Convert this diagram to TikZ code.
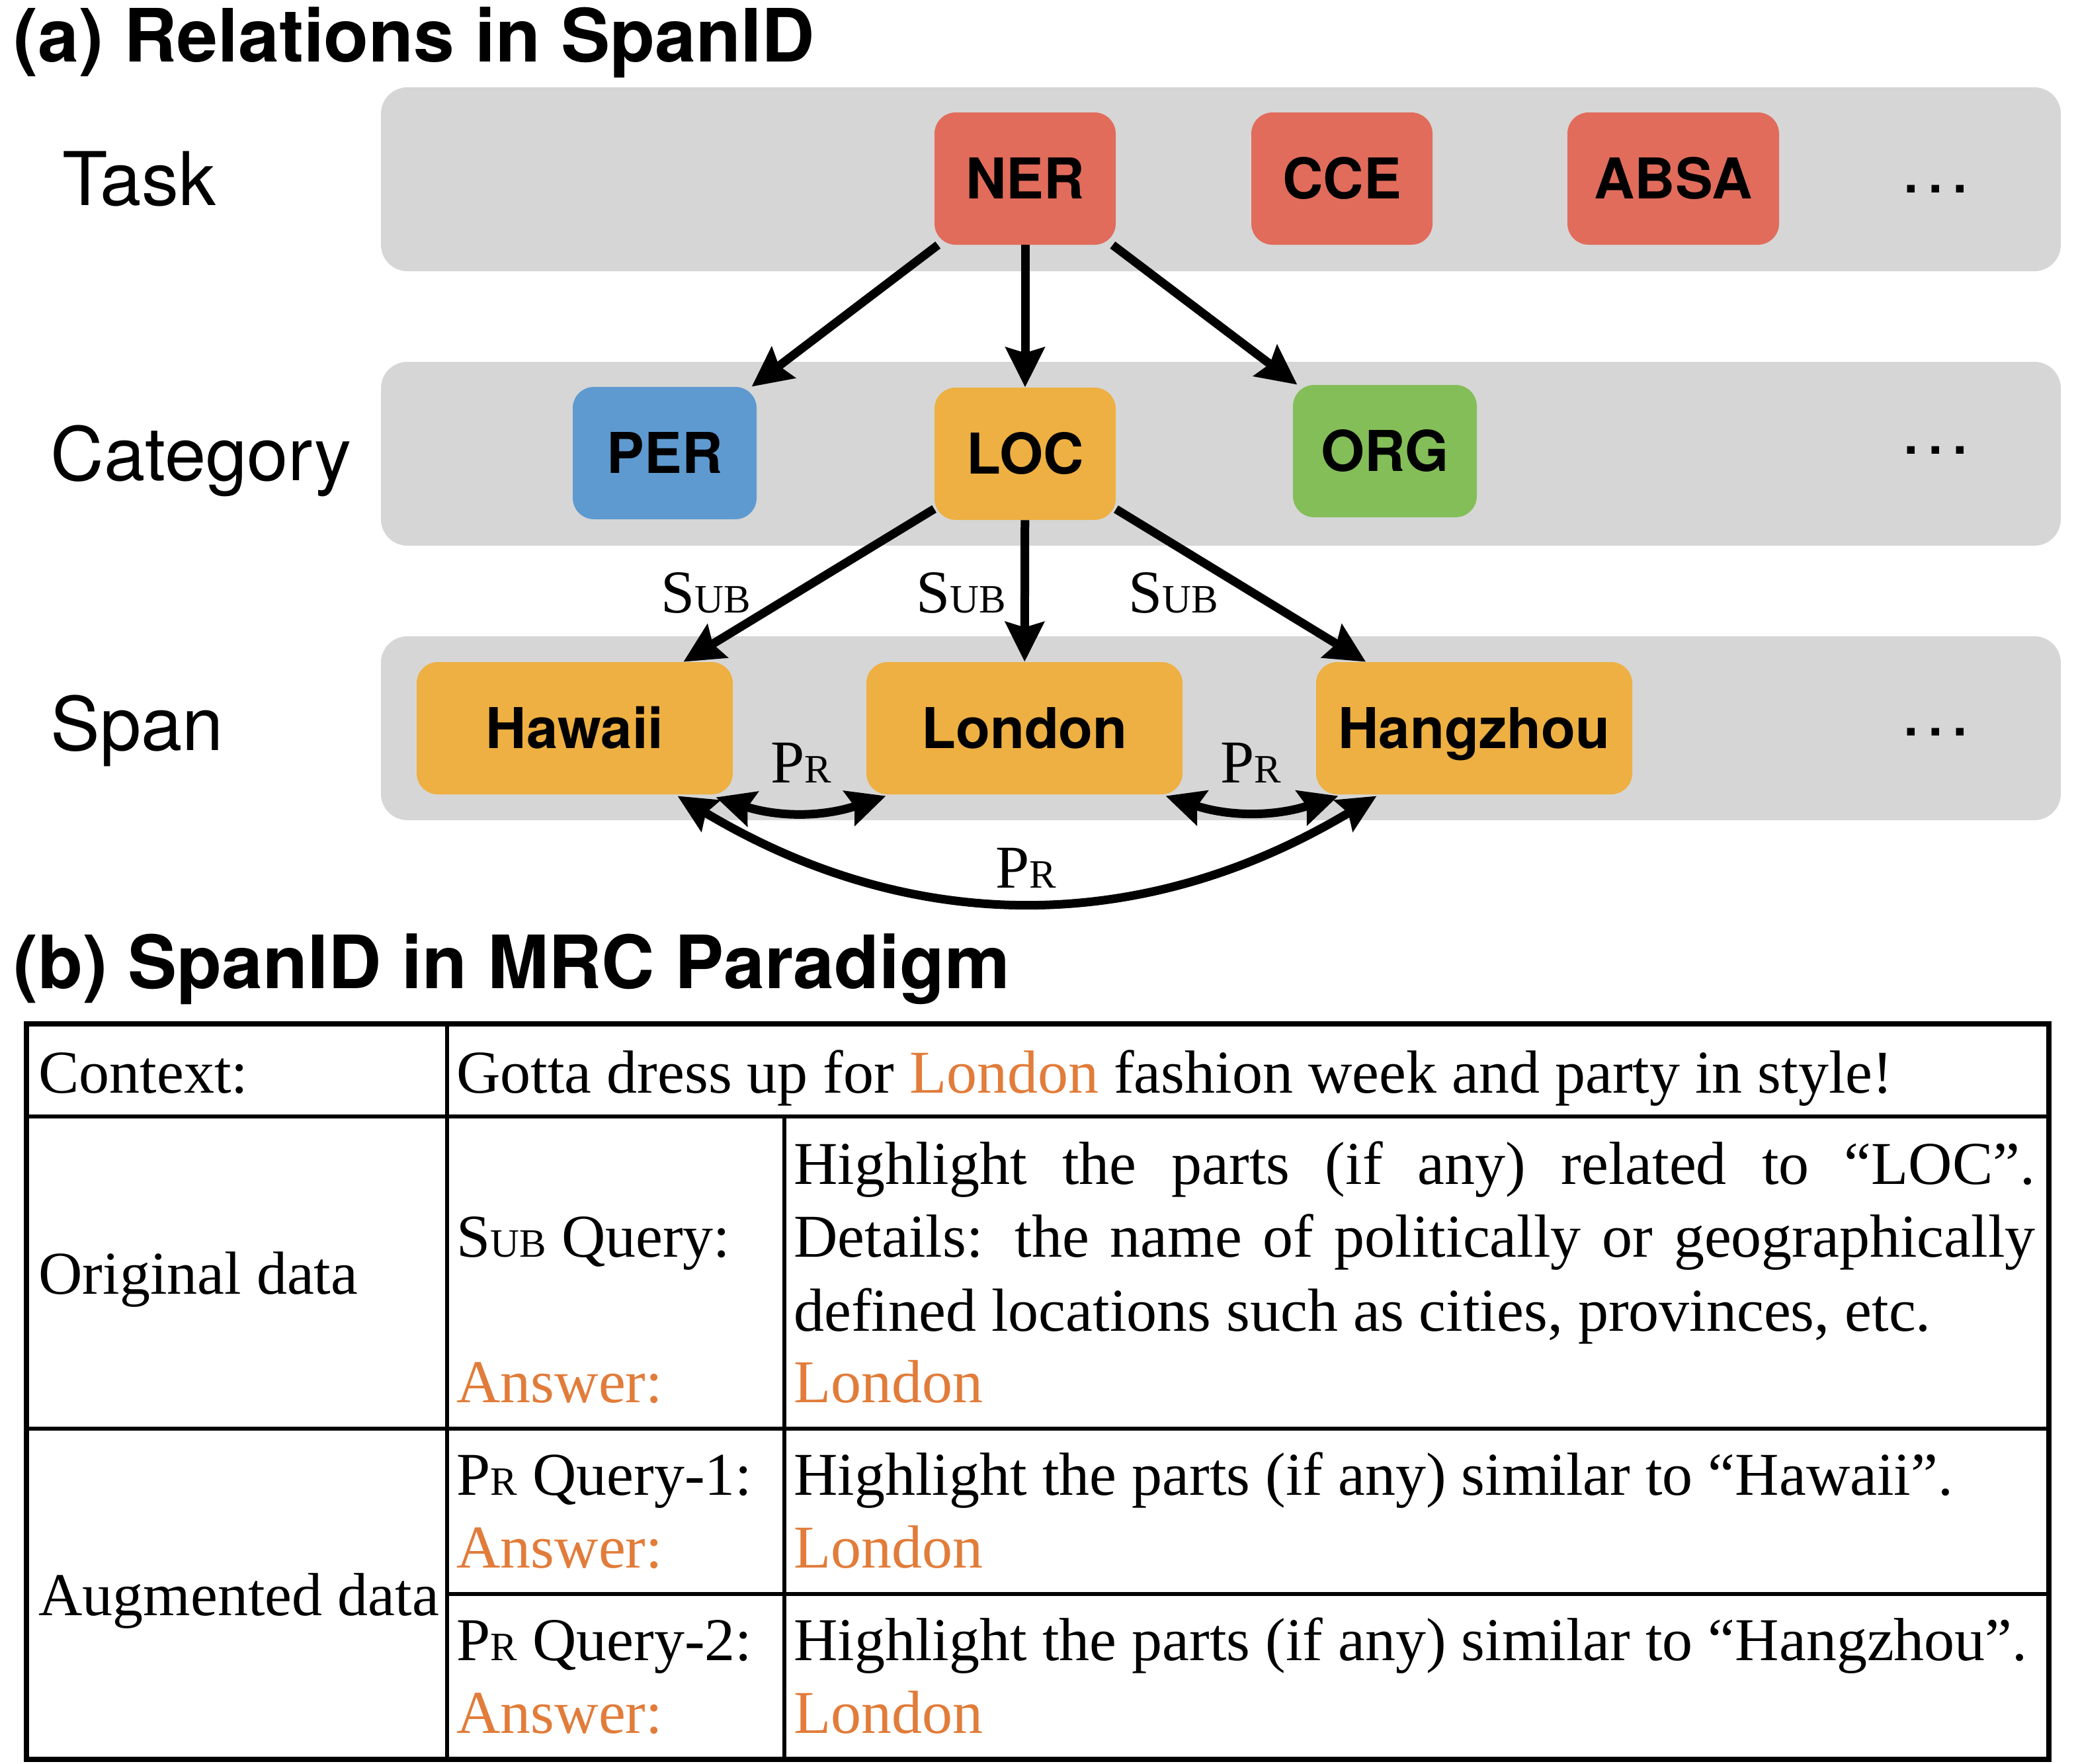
\documentclass[tikz,border=0pt]{standalone}
\usepackage{fontspec}
\setmainfont{Liberation Serif}
\setsansfont{TeX Gyre Heros}
\usetikzlibrary{arrows.meta}
\definecolor{bandgray}{RGB}{214,214,214}
\definecolor{nerred}{RGB}{225,108,91}
\definecolor{perblue}{RGB}{94,154,208}
\definecolor{locorange}{RGB}{238,176,66}
\definecolor{orggreen}{RGB}{132,190,88}
\definecolor{ansorange}{RGB}{225,124,58}
\newcommand{\fakesc}[2]{#1{\fontsize{30.4}{30.4}\selectfont #2}}
\begin{document}
\begin{tikzpicture}[x=1pt,y=-1pt,
  bandbox/.style={fill=bandgray, rounded corners=20pt, minimum width=1270pt, minimum height=139pt, inner sep=0pt},
  tbox/.style={rounded corners=16pt, minimum height=100pt, inner sep=0pt, text height=30.5pt, text depth=0pt, font=\sffamily\bfseries\fontsize{42.5}{42.5}\selectfont},
  lvllab/.style={anchor=base west, inner sep=0pt, font=\sffamily\fontsize{56}{56}\selectfont},
  dotsty/.style={anchor=base west, inner sep=0pt, font=\sffamily\fontsize{55}{55}\selectfont},
  titlesty/.style={anchor=base west, inner sep=0pt, font=\sffamily\bfseries\fontsize{55.6}{55.6}\selectfont},
  rellab/.style={anchor=base west, inner sep=0pt, font=\rmfamily\fontsize{46}{46}\selectfont},
  ttxt/.style={anchor=base west, inner sep=0pt, font=\rmfamily\fontsize{46}{46}\selectfont},
  anstxt/.style={ttxt, text=ansorange},
  arr/.style={line width=6.5pt, -{Stealth[length=30pt,width=29pt,inset=4pt]}},
  prarr/.style={line width=6.5pt, {Stealth[length=29pt,width=27pt,inset=4pt]}-{Stealth[length=29pt,width=27pt,inset=4pt]}},
  outerline/.style={line width=4pt},
  innerline/.style={line width=3pt},
]
\useasboundingbox (0,0) rectangle (1569.5,1333.5);

% titles
\node[titlesty] (ta) at (10,46.5) {(a) Relations in SpanID};
\node[titlesty] (tb) at (10,747) {(b) SpanID in MRC Paradigm};

% bands
\node[bandbox] (band1) at (923,135.5) {};
\node[bandbox] (band2) at (923,343) {};
\node[bandbox] (band3) at (923,550.5) {};

% level labels
\node[lvllab] (task) at (47,155) {Task};
\node[lvllab] (cat) at (38,363) {Category};
\node[lvllab] (span) at (38,567) {Span};

% boxes
\node[tbox, fill=nerred, minimum width=137pt] (ner) at (775,135) {NER};
\node[tbox, fill=nerred, minimum width=137pt] (cce) at (1014.5,135) {CCE};
\node[tbox, fill=nerred, minimum width=160pt] (absa) at (1265,135) {ABSA};
\node[tbox, fill=perblue, minimum width=139pt] (per) at (502.5,342.5) {PER};
\node[tbox, fill=locorange, minimum width=137pt] (loc) at (775,343) {LOC};
\node[tbox, fill=orggreen, minimum width=139pt] (org) at (1047,341) {ORG};
\node[tbox, fill=locorange, minimum width=239pt] (hawaii) at (434.5,550.5) {Hawaii};
\node[tbox, fill=locorange, minimum width=239pt] (london) at (774.5,550.5) {London};
\node[tbox, fill=locorange, minimum width=239pt] (hangzhou) at (1114.5,550.5) {Hangzhou};

% dots
\node[dotsty] (dots1) at (1437,145.5) {.\kern3.2pt.\kern3.2pt.};
\node[dotsty] (dots2) at (1437,343) {.\kern3.2pt.\kern3.2pt.};
\node[dotsty] (dots3) at (1437,556) {.\kern3.2pt.\kern3.2pt.};

% arrows
\draw[arr] (ner) -- (per);
\draw[arr] (ner) -- (loc);
\draw[arr] (ner) -- (org);
\draw[arr] (loc) -- (hawaii);
\draw[arr] (loc) -- (london);
\draw[arr] (loc) -- (hangzhou);

% SUB labels
\node[rellab] (sub1) at (499.5,463) {\fakesc{S}{UB}};
\node[rellab] (sub2) at (692.5,463) {\fakesc{S}{UB}};
\node[rellab] (sub3) at (853,463) {\fakesc{S}{UB}};

% PR arcs
\coordinate (hwa) at ([xshift=-13pt,yshift=-2pt]hawaii.south east);
\coordinate (lda) at ([xshift=15pt,yshift=-1pt]london.south west);
\coordinate (ldb) at ([xshift=-13pt,yshift=-1pt]london.south east);
\coordinate (hza) at ([xshift=17pt,yshift=-1pt]hangzhou.south west);
\coordinate (hwb) at ([xshift=-42pt,yshift=-1pt]hawaii.south east);
\coordinate (hzb) at ([xshift=46pt,yshift=-1pt]hangzhou.south west);
\draw[prarr] (hwa) to[bend right=18] (lda);
\draw[prarr] (ldb) to[bend right=18] (hza);
\draw[prarr] (hwb) to[bend right=31] (hzb);
\node[rellab] (pr1) at (582.5,591.5) {\fakesc{P}{R}};
\node[rellab] (pr2) at (922.5,591.5) {\fakesc{P}{R}};
\node[rellab] (pr3) at (752.5,671) {\fakesc{P}{R}};

% table
\draw[outerline] (20,774) rectangle (1549,1330);
\draw[innerline] (338,774) -- (338,1330);
\draw[innerline] (593,844) -- (593,1330);
\draw[innerline] (20,844) -- (1549,844);
\draw[innerline] (20,1080) -- (1549,1080);
\draw[innerline] (338,1205) -- (1549,1205);

\node[ttxt] (ctxl) at (29,826) {Context:};
\node[ttxt] (ctx) at (345,826) {Gotta dress up for \textcolor{ansorange}{London} fashion week and party in style!};
\node[ttxt] (orig) at (29,978) {Original data};
\node[ttxt] (subq) at (345,950) {\fakesc{S}{UB} Query:};
\node[anstxt] (ans1) at (345,1060) {Answer:};
\node[ttxt] (h1) at (600,895) {\makebox[938.5pt][s]{Highlight the parts (if any) related to “LOC”.}};
\node[ttxt] (h2) at (600,950) {\makebox[938.5pt][s]{Details: the name of politically or geographically}};
\node[ttxt] (h3) at (600,1006) {defined locations such as cities, provinces, etc.};
\node[anstxt] (l1) at (600,1060) {London};
\node[ttxt] (aug) at (29,1221) {Augmented data};
\node[ttxt] (prq1) at (345,1130) {\fakesc{P}{R} Query-1:};
\node[anstxt] (ans2) at (345,1185) {Answer:};
\node[ttxt] (h4) at (600,1130) {Highlight the parts (if any) similar to “Hawaii”.};
\node[anstxt] (l2) at (600,1185) {London};
\node[ttxt] (prq2) at (345,1255) {\fakesc{P}{R} Query-2:};
\node[anstxt] (ans3) at (345,1310) {Answer:};
\node[ttxt] (h5) at (600,1255) {Highlight the parts (if any) similar to “Hangzhou”.};
\node[anstxt] (l3) at (600,1310) {London};
\end{tikzpicture}
\end{document}
